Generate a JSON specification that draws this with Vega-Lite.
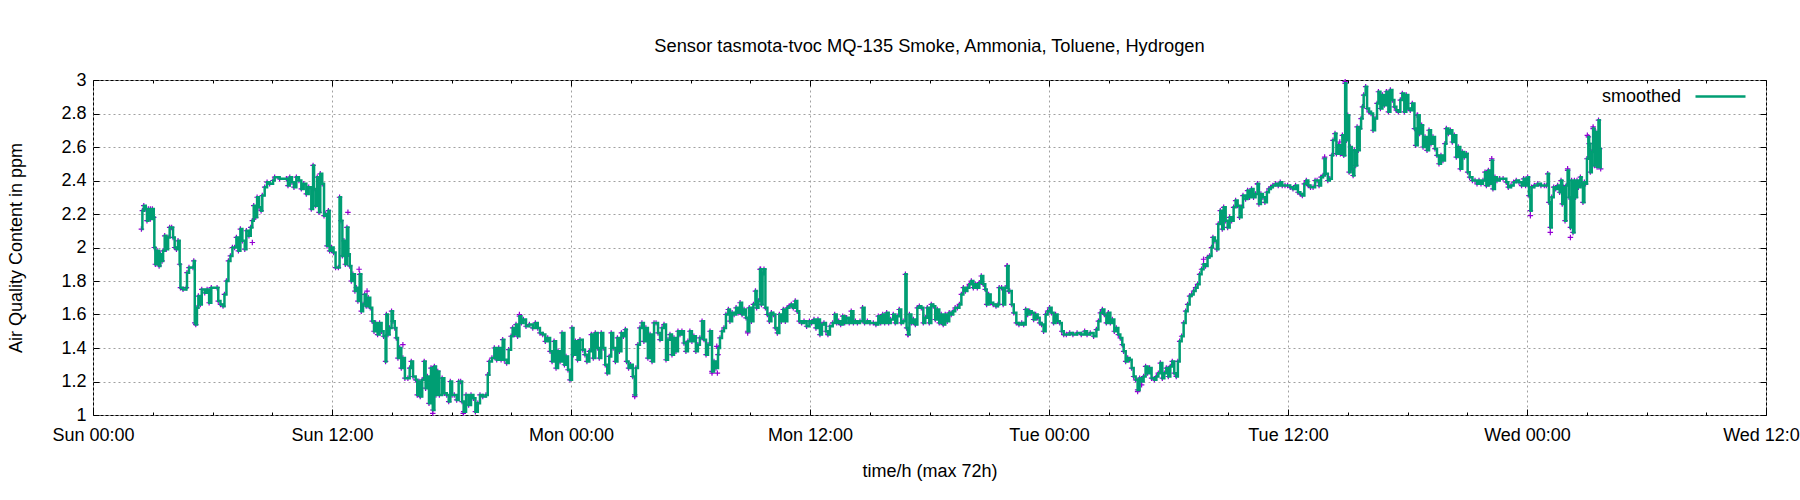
{
  "$schema": "https://vega.github.io/schema/vega-lite/v6.json",
  "autosize": {"type": "none"},
  "width": 1673,
  "height": 335,
  "padding": {"left": 93, "top": 80, "right": 34, "bottom": 85},
  "title": {
    "text": "Sensor tasmota-tvoc MQ-135 Smoke, Ammonia, Toluene, Hydrogen",
    "font": "Liberation Sans",
    "fontSize": 18.3,
    "fontWeight": "normal",
    "color": "black",
    "anchor": "middle",
    "frame": "group",
    "offset": 14
  },
  "config": {
    "view": {"stroke": "black", "strokeWidth": 1},
    "font": "Liberation Sans",
    "axis": {
      "domain": false,
      "labelFont": "Liberation Sans",
      "labelFontSize": 18,
      "labelColor": "black",
      "titleFont": "Liberation Sans",
      "titleFontSize": 18,
      "titleFontWeight": "normal",
      "titleColor": "black",
      "tickColor": "black",
      "tickWidth": 1,
      "gridColor": "#a0a0a0",
      "gridDash": [2, 3],
      "gridWidth": 1
    }
  },
  "datasets": {
    "smooth": [
      {"h": 2.43, "v": 2.11}, {"h": 2.48, "v": 2.22}, {"h": 2.55, "v": 2.25}, {"h": 2.65, "v": 2.23}, {"h": 2.71, "v": 2.16},
      {"h": 2.78, "v": 2.23}, {"h": 2.88, "v": 2.17}, {"h": 2.98, "v": 2.23}, {"h": 3.05, "v": 2.18}, {"h": 3.08, "v": 2.0},
      {"h": 3.13, "v": 1.9}, {"h": 3.22, "v": 1.98}, {"h": 3.32, "v": 1.89}, {"h": 3.38, "v": 1.96}, {"h": 3.47, "v": 1.92},
      {"h": 3.52, "v": 1.98}, {"h": 3.6, "v": 2.07}, {"h": 3.68, "v": 1.99}, {"h": 3.77, "v": 2.06}, {"h": 3.85, "v": 2.12},
      {"h": 3.95, "v": 2.12}, {"h": 4.02, "v": 2.06}, {"h": 4.1, "v": 2.0}, {"h": 4.19, "v": 1.99}, {"h": 4.27, "v": 2.04},
      {"h": 4.35, "v": 1.9}, {"h": 4.39, "v": 1.76}, {"h": 4.52, "v": 1.75}, {"h": 4.69, "v": 1.76}, {"h": 4.72, "v": 1.85},
      {"h": 4.82, "v": 1.88}, {"h": 5.02, "v": 1.88}, {"h": 5.06, "v": 1.92}, {"h": 5.11, "v": 1.55}, {"h": 5.16, "v": 1.54},
      {"h": 5.22, "v": 1.64}, {"h": 5.29, "v": 1.71}, {"h": 5.39, "v": 1.66}, {"h": 5.46, "v": 1.75}, {"h": 5.61, "v": 1.73},
      {"h": 5.73, "v": 1.75}, {"h": 5.83, "v": 1.67}, {"h": 5.94, "v": 1.76}, {"h": 6.23, "v": 1.76}, {"h": 6.29, "v": 1.68},
      {"h": 6.4, "v": 1.66}, {"h": 6.53, "v": 1.65}, {"h": 6.6, "v": 1.72}, {"h": 6.7, "v": 1.8}, {"h": 6.8, "v": 1.92},
      {"h": 6.9, "v": 1.95}, {"h": 7.0, "v": 2.0}, {"h": 7.11, "v": 2.0}, {"h": 7.2, "v": 2.06}, {"h": 7.3, "v": 1.98},
      {"h": 7.4, "v": 2.11}, {"h": 7.5, "v": 2.04}, {"h": 7.62, "v": 1.99}, {"h": 7.7, "v": 2.1}, {"h": 7.83, "v": 2.07},
      {"h": 7.92, "v": 2.12}, {"h": 8.0, "v": 2.16}, {"h": 8.07, "v": 2.25}, {"h": 8.17, "v": 2.18}, {"h": 8.24, "v": 2.3},
      {"h": 8.34, "v": 2.24}, {"h": 8.44, "v": 2.22}, {"h": 8.5, "v": 2.31}, {"h": 8.62, "v": 2.36}, {"h": 8.74, "v": 2.39},
      {"h": 8.87, "v": 2.38}, {"h": 9.04, "v": 2.4}, {"h": 9.12, "v": 2.42}, {"h": 9.37, "v": 2.41}, {"h": 9.71, "v": 2.41},
      {"h": 9.79, "v": 2.37}, {"h": 9.88, "v": 2.42}, {"h": 9.99, "v": 2.39}, {"h": 10.09, "v": 2.36}, {"h": 10.21, "v": 2.42},
      {"h": 10.34, "v": 2.4}, {"h": 10.46, "v": 2.35}, {"h": 10.58, "v": 2.38}, {"h": 10.71, "v": 2.32}, {"h": 10.83, "v": 2.36},
      {"h": 10.96, "v": 2.23}, {"h": 11.05, "v": 2.49}, {"h": 11.1, "v": 2.35}, {"h": 11.18, "v": 2.25}, {"h": 11.26, "v": 2.42},
      {"h": 11.35, "v": 2.21}, {"h": 11.41, "v": 2.44}, {"h": 11.51, "v": 2.38}, {"h": 11.6, "v": 2.19}, {"h": 11.68, "v": 2.2},
      {"h": 11.75, "v": 2.01}, {"h": 11.82, "v": 2.22}, {"h": 11.88, "v": 1.98}, {"h": 11.97, "v": 2.0}, {"h": 12.08, "v": 1.97},
      {"h": 12.18, "v": 1.88}, {"h": 12.32, "v": 1.88}, {"h": 12.38, "v": 2.3}, {"h": 12.45, "v": 2.16}, {"h": 12.52, "v": 1.95},
      {"h": 12.6, "v": 2.04}, {"h": 12.67, "v": 1.9}, {"h": 12.75, "v": 2.12}, {"h": 12.82, "v": 1.96}, {"h": 12.89, "v": 1.89},
      {"h": 12.97, "v": 1.8}, {"h": 13.05, "v": 1.84}, {"h": 13.15, "v": 1.74}, {"h": 13.22, "v": 1.76}, {"h": 13.3, "v": 1.68},
      {"h": 13.39, "v": 1.84}, {"h": 13.47, "v": 1.62}, {"h": 13.56, "v": 1.66}, {"h": 13.64, "v": 1.72}, {"h": 13.72, "v": 1.65},
      {"h": 13.82, "v": 1.7}, {"h": 13.92, "v": 1.64}, {"h": 14.02, "v": 1.56}, {"h": 14.11, "v": 1.5}, {"h": 14.19, "v": 1.55},
      {"h": 14.29, "v": 1.48}, {"h": 14.39, "v": 1.55}, {"h": 14.49, "v": 1.5}, {"h": 14.59, "v": 1.47}, {"h": 14.69, "v": 1.32},
      {"h": 14.73, "v": 1.6}, {"h": 14.81, "v": 1.48}, {"h": 14.89, "v": 1.52}, {"h": 14.99, "v": 1.62}, {"h": 15.06, "v": 1.56},
      {"h": 15.15, "v": 1.52}, {"h": 15.23, "v": 1.46}, {"h": 15.31, "v": 1.34}, {"h": 15.4, "v": 1.4}, {"h": 15.48, "v": 1.28},
      {"h": 15.56, "v": 1.34}, {"h": 15.66, "v": 1.22}, {"h": 15.81, "v": 1.22}, {"h": 15.9, "v": 1.28}, {"h": 15.98, "v": 1.32},
      {"h": 16.07, "v": 1.23}, {"h": 16.2, "v": 1.21}, {"h": 16.28, "v": 1.12}, {"h": 16.37, "v": 1.2}, {"h": 16.43, "v": 1.11},
      {"h": 16.53, "v": 1.21}, {"h": 16.63, "v": 1.32}, {"h": 16.7, "v": 1.16}, {"h": 16.79, "v": 1.23}, {"h": 16.87, "v": 1.07},
      {"h": 16.97, "v": 1.28}, {"h": 17.06, "v": 1.03}, {"h": 17.14, "v": 1.29}, {"h": 17.22, "v": 1.12}, {"h": 17.31, "v": 1.26},
      {"h": 17.39, "v": 1.12}, {"h": 17.53, "v": 1.22}, {"h": 17.64, "v": 1.13}, {"h": 17.76, "v": 1.12}, {"h": 17.86, "v": 1.08},
      {"h": 17.94, "v": 1.2}, {"h": 18.03, "v": 1.12}, {"h": 18.14, "v": 1.12}, {"h": 18.26, "v": 1.09}, {"h": 18.36, "v": 1.2},
      {"h": 18.46, "v": 1.2}, {"h": 18.53, "v": 1.08}, {"h": 18.61, "v": 1.02}, {"h": 18.73, "v": 1.12}, {"h": 18.86, "v": 1.06},
      {"h": 18.98, "v": 1.12}, {"h": 19.1, "v": 1.1}, {"h": 19.2, "v": 1.02}, {"h": 19.32, "v": 1.07}, {"h": 19.43, "v": 1.12},
      {"h": 19.57, "v": 1.11}, {"h": 19.73, "v": 1.12}, {"h": 19.82, "v": 1.24}, {"h": 19.9, "v": 1.32}, {"h": 20.03, "v": 1.34},
      {"h": 20.15, "v": 1.4}, {"h": 20.27, "v": 1.33}, {"h": 20.37, "v": 1.4}, {"h": 20.49, "v": 1.33}, {"h": 20.57, "v": 1.45},
      {"h": 20.65, "v": 1.33}, {"h": 20.77, "v": 1.31}, {"h": 20.87, "v": 1.39}, {"h": 20.99, "v": 1.47}, {"h": 21.07, "v": 1.52},
      {"h": 21.16, "v": 1.48}, {"h": 21.24, "v": 1.54}, {"h": 21.32, "v": 1.47}, {"h": 21.41, "v": 1.59}, {"h": 21.51, "v": 1.55},
      {"h": 21.61, "v": 1.57}, {"h": 21.74, "v": 1.53}, {"h": 21.91, "v": 1.54}, {"h": 22.08, "v": 1.52}, {"h": 22.21, "v": 1.55},
      {"h": 22.33, "v": 1.52}, {"h": 22.44, "v": 1.49}, {"h": 22.58, "v": 1.48}, {"h": 22.71, "v": 1.44}, {"h": 22.83, "v": 1.46},
      {"h": 22.95, "v": 1.38}, {"h": 23.05, "v": 1.32}, {"h": 23.15, "v": 1.44}, {"h": 23.25, "v": 1.28}, {"h": 23.35, "v": 1.38},
      {"h": 23.45, "v": 1.32}, {"h": 23.55, "v": 1.49}, {"h": 23.67, "v": 1.3}, {"h": 23.75, "v": 1.35}, {"h": 23.85, "v": 1.27},
      {"h": 23.95, "v": 1.21}, {"h": 24.05, "v": 1.52}, {"h": 24.12, "v": 1.36}, {"h": 24.22, "v": 1.44}, {"h": 24.33, "v": 1.33},
      {"h": 24.45, "v": 1.45}, {"h": 24.59, "v": 1.39}, {"h": 24.7, "v": 1.36}, {"h": 24.8, "v": 1.32}, {"h": 24.92, "v": 1.38},
      {"h": 25.02, "v": 1.48}, {"h": 25.12, "v": 1.34}, {"h": 25.22, "v": 1.49}, {"h": 25.34, "v": 1.4}, {"h": 25.42, "v": 1.34},
      {"h": 25.52, "v": 1.49}, {"h": 25.62, "v": 1.4}, {"h": 25.72, "v": 1.3}, {"h": 25.82, "v": 1.25}, {"h": 25.92, "v": 1.35},
      {"h": 26.02, "v": 1.49}, {"h": 26.12, "v": 1.4}, {"h": 26.23, "v": 1.32}, {"h": 26.33, "v": 1.46}, {"h": 26.43, "v": 1.38},
      {"h": 26.53, "v": 1.49}, {"h": 26.63, "v": 1.47}, {"h": 26.73, "v": 1.51}, {"h": 26.79, "v": 1.32}, {"h": 26.89, "v": 1.28},
      {"h": 26.99, "v": 1.3}, {"h": 27.1, "v": 1.23}, {"h": 27.2, "v": 1.12}, {"h": 27.26, "v": 1.28}, {"h": 27.36, "v": 1.42},
      {"h": 27.46, "v": 1.52}, {"h": 27.56, "v": 1.55}, {"h": 27.66, "v": 1.44}, {"h": 27.76, "v": 1.52}, {"h": 27.86, "v": 1.34},
      {"h": 27.97, "v": 1.48}, {"h": 28.07, "v": 1.32}, {"h": 28.17, "v": 1.55}, {"h": 28.27, "v": 1.55}, {"h": 28.37, "v": 1.49},
      {"h": 28.47, "v": 1.45}, {"h": 28.57, "v": 1.52}, {"h": 28.67, "v": 1.54}, {"h": 28.77, "v": 1.33}, {"h": 28.87, "v": 1.45},
      {"h": 28.97, "v": 1.48}, {"h": 29.07, "v": 1.36}, {"h": 29.17, "v": 1.46}, {"h": 29.27, "v": 1.38}, {"h": 29.37, "v": 1.5},
      {"h": 29.47, "v": 1.48}, {"h": 29.57, "v": 1.5}, {"h": 29.67, "v": 1.43}, {"h": 29.77, "v": 1.38}, {"h": 29.87, "v": 1.44},
      {"h": 29.97, "v": 1.5}, {"h": 30.07, "v": 1.44}, {"h": 30.17, "v": 1.47}, {"h": 30.27, "v": 1.38}, {"h": 30.37, "v": 1.42},
      {"h": 30.47, "v": 1.46}, {"h": 30.58, "v": 1.56}, {"h": 30.68, "v": 1.45}, {"h": 30.78, "v": 1.36}, {"h": 30.88, "v": 1.42},
      {"h": 30.98, "v": 1.5}, {"h": 31.08, "v": 1.26}, {"h": 31.18, "v": 1.32}, {"h": 31.28, "v": 1.28}, {"h": 31.38, "v": 1.36},
      {"h": 31.4, "v": 1.4}, {"h": 31.48, "v": 1.46}, {"h": 31.58, "v": 1.5}, {"h": 31.68, "v": 1.52}, {"h": 31.78, "v": 1.6},
      {"h": 31.9, "v": 1.63}, {"h": 31.98, "v": 1.56}, {"h": 32.09, "v": 1.61}, {"h": 32.19, "v": 1.6}, {"h": 32.29, "v": 1.64},
      {"h": 32.39, "v": 1.61}, {"h": 32.49, "v": 1.67}, {"h": 32.59, "v": 1.6}, {"h": 32.69, "v": 1.63}, {"h": 32.79, "v": 1.58},
      {"h": 32.87, "v": 1.5}, {"h": 32.95, "v": 1.64}, {"h": 33.06, "v": 1.56}, {"h": 33.16, "v": 1.66}, {"h": 33.26, "v": 1.74},
      {"h": 33.32, "v": 1.64}, {"h": 33.41, "v": 1.68}, {"h": 33.49, "v": 1.87}, {"h": 33.56, "v": 1.66}, {"h": 33.62, "v": 1.84},
      {"h": 33.69, "v": 1.87}, {"h": 33.76, "v": 1.64}, {"h": 33.86, "v": 1.6}, {"h": 33.96, "v": 1.56}, {"h": 34.06, "v": 1.61},
      {"h": 34.16, "v": 1.6}, {"h": 34.26, "v": 1.52}, {"h": 34.36, "v": 1.49}, {"h": 34.46, "v": 1.6}, {"h": 34.56, "v": 1.56},
      {"h": 34.66, "v": 1.63}, {"h": 34.76, "v": 1.56}, {"h": 34.86, "v": 1.64}, {"h": 34.96, "v": 1.65}, {"h": 35.06, "v": 1.66},
      {"h": 35.16, "v": 1.64}, {"h": 35.26, "v": 1.68}, {"h": 35.36, "v": 1.62}, {"h": 35.46, "v": 1.56}, {"h": 35.58, "v": 1.55},
      {"h": 35.7, "v": 1.56}, {"h": 35.83, "v": 1.53}, {"h": 35.97, "v": 1.56}, {"h": 36.08, "v": 1.55}, {"h": 36.2, "v": 1.57},
      {"h": 36.3, "v": 1.52}, {"h": 36.4, "v": 1.57}, {"h": 36.5, "v": 1.48}, {"h": 36.6, "v": 1.54}, {"h": 36.7, "v": 1.55},
      {"h": 36.8, "v": 1.5}, {"h": 36.9, "v": 1.48}, {"h": 37.0, "v": 1.53}, {"h": 37.14, "v": 1.55}, {"h": 37.24, "v": 1.6},
      {"h": 37.34, "v": 1.55}, {"h": 37.44, "v": 1.56}, {"h": 37.54, "v": 1.54}, {"h": 37.64, "v": 1.59}, {"h": 37.74, "v": 1.55},
      {"h": 37.84, "v": 1.58}, {"h": 37.97, "v": 1.55}, {"h": 38.07, "v": 1.62}, {"h": 38.18, "v": 1.55}, {"h": 38.28, "v": 1.56},
      {"h": 38.38, "v": 1.55}, {"h": 38.51, "v": 1.56}, {"h": 38.64, "v": 1.64}, {"h": 38.74, "v": 1.55}, {"h": 38.88, "v": 1.56},
      {"h": 39.01, "v": 1.55}, {"h": 39.18, "v": 1.55}, {"h": 39.31, "v": 1.54}, {"h": 39.43, "v": 1.59}, {"h": 39.55, "v": 1.55},
      {"h": 39.65, "v": 1.6}, {"h": 39.75, "v": 1.55}, {"h": 39.85, "v": 1.61}, {"h": 39.95, "v": 1.55}, {"h": 40.05, "v": 1.57},
      {"h": 40.18, "v": 1.6}, {"h": 40.28, "v": 1.55}, {"h": 40.38, "v": 1.59}, {"h": 40.48, "v": 1.63}, {"h": 40.58, "v": 1.55},
      {"h": 40.68, "v": 1.56}, {"h": 40.79, "v": 1.84}, {"h": 40.85, "v": 1.52}, {"h": 40.92, "v": 1.48}, {"h": 40.99, "v": 1.6},
      {"h": 41.09, "v": 1.55}, {"h": 41.19, "v": 1.57}, {"h": 41.29, "v": 1.54}, {"h": 41.39, "v": 1.64}, {"h": 41.49, "v": 1.65},
      {"h": 41.59, "v": 1.64}, {"h": 41.69, "v": 1.55}, {"h": 41.79, "v": 1.58}, {"h": 41.89, "v": 1.64}, {"h": 41.99, "v": 1.55},
      {"h": 42.09, "v": 1.66}, {"h": 42.19, "v": 1.65}, {"h": 42.29, "v": 1.57}, {"h": 42.39, "v": 1.63}, {"h": 42.49, "v": 1.55},
      {"h": 42.59, "v": 1.6}, {"h": 42.69, "v": 1.54}, {"h": 42.79, "v": 1.6}, {"h": 42.89, "v": 1.56}, {"h": 42.99, "v": 1.61},
      {"h": 43.09, "v": 1.6}, {"h": 43.19, "v": 1.62}, {"h": 43.29, "v": 1.64}, {"h": 43.4, "v": 1.64}, {"h": 43.5, "v": 1.66},
      {"h": 43.6, "v": 1.72}, {"h": 43.7, "v": 1.76}, {"h": 43.8, "v": 1.74}, {"h": 43.9, "v": 1.76}, {"h": 44.0, "v": 1.78},
      {"h": 44.1, "v": 1.8}, {"h": 44.2, "v": 1.76}, {"h": 44.3, "v": 1.78}, {"h": 44.4, "v": 1.76}, {"h": 44.5, "v": 1.79},
      {"h": 44.6, "v": 1.83}, {"h": 44.7, "v": 1.78}, {"h": 44.8, "v": 1.75}, {"h": 44.87, "v": 1.66}, {"h": 44.97, "v": 1.72},
      {"h": 45.07, "v": 1.67}, {"h": 45.2, "v": 1.66}, {"h": 45.34, "v": 1.65}, {"h": 45.44, "v": 1.66}, {"h": 45.5, "v": 1.76},
      {"h": 45.62, "v": 1.76}, {"h": 45.7, "v": 1.66}, {"h": 45.8, "v": 1.76}, {"h": 45.9, "v": 1.89}, {"h": 45.97, "v": 1.74},
      {"h": 46.03, "v": 1.74}, {"h": 46.13, "v": 1.66}, {"h": 46.23, "v": 1.61}, {"h": 46.36, "v": 1.55}, {"h": 46.49, "v": 1.54},
      {"h": 46.63, "v": 1.55}, {"h": 46.73, "v": 1.54}, {"h": 46.83, "v": 1.63}, {"h": 46.93, "v": 1.6}, {"h": 47.03, "v": 1.62},
      {"h": 47.13, "v": 1.61}, {"h": 47.23, "v": 1.57}, {"h": 47.33, "v": 1.6}, {"h": 47.43, "v": 1.58}, {"h": 47.53, "v": 1.55},
      {"h": 47.63, "v": 1.54}, {"h": 47.73, "v": 1.5}, {"h": 47.83, "v": 1.6}, {"h": 47.93, "v": 1.62}, {"h": 48.03, "v": 1.64},
      {"h": 48.13, "v": 1.61}, {"h": 48.23, "v": 1.55}, {"h": 48.33, "v": 1.6}, {"h": 48.43, "v": 1.56}, {"h": 48.54, "v": 1.55},
      {"h": 48.64, "v": 1.5}, {"h": 48.74, "v": 1.48}, {"h": 48.87, "v": 1.48}, {"h": 49.04, "v": 1.49}, {"h": 49.2, "v": 1.48},
      {"h": 49.41, "v": 1.49}, {"h": 49.62, "v": 1.48}, {"h": 49.79, "v": 1.5}, {"h": 49.91, "v": 1.48}, {"h": 50.07, "v": 1.49},
      {"h": 50.24, "v": 1.47}, {"h": 50.38, "v": 1.51}, {"h": 50.48, "v": 1.56}, {"h": 50.58, "v": 1.61}, {"h": 50.68, "v": 1.63},
      {"h": 50.78, "v": 1.6}, {"h": 50.88, "v": 1.55}, {"h": 50.98, "v": 1.61}, {"h": 51.08, "v": 1.55}, {"h": 51.18, "v": 1.57},
      {"h": 51.28, "v": 1.5}, {"h": 51.38, "v": 1.52}, {"h": 51.48, "v": 1.48}, {"h": 51.58, "v": 1.46}, {"h": 51.68, "v": 1.42},
      {"h": 51.75, "v": 1.38}, {"h": 51.85, "v": 1.32}, {"h": 51.95, "v": 1.34}, {"h": 52.05, "v": 1.33}, {"h": 52.15, "v": 1.28},
      {"h": 52.25, "v": 1.23}, {"h": 52.35, "v": 1.21}, {"h": 52.45, "v": 1.15}, {"h": 52.55, "v": 1.22}, {"h": 52.65, "v": 1.2},
      {"h": 52.75, "v": 1.23}, {"h": 52.85, "v": 1.29}, {"h": 52.95, "v": 1.25}, {"h": 53.05, "v": 1.28}, {"h": 53.15, "v": 1.22},
      {"h": 53.29, "v": 1.21}, {"h": 53.39, "v": 1.23}, {"h": 53.49, "v": 1.25}, {"h": 53.59, "v": 1.31}, {"h": 53.69, "v": 1.22},
      {"h": 53.79, "v": 1.25}, {"h": 53.89, "v": 1.28}, {"h": 53.99, "v": 1.23}, {"h": 54.09, "v": 1.29}, {"h": 54.19, "v": 1.32},
      {"h": 54.29, "v": 1.25}, {"h": 54.39, "v": 1.23}, {"h": 54.47, "v": 1.32}, {"h": 54.56, "v": 1.44}, {"h": 54.66, "v": 1.47},
      {"h": 54.76, "v": 1.55}, {"h": 54.86, "v": 1.62}, {"h": 54.96, "v": 1.66}, {"h": 55.06, "v": 1.71}, {"h": 55.16, "v": 1.72},
      {"h": 55.26, "v": 1.74}, {"h": 55.36, "v": 1.76}, {"h": 55.46, "v": 1.78}, {"h": 55.56, "v": 1.84}, {"h": 55.66, "v": 1.87},
      {"h": 55.76, "v": 1.9}, {"h": 55.86, "v": 1.89}, {"h": 55.96, "v": 1.94}, {"h": 56.06, "v": 1.95}, {"h": 56.16, "v": 2.0},
      {"h": 56.23, "v": 2.06}, {"h": 56.33, "v": 2.04}, {"h": 56.43, "v": 1.99}, {"h": 56.5, "v": 2.14}, {"h": 56.6, "v": 2.22},
      {"h": 56.7, "v": 2.11}, {"h": 56.77, "v": 2.24}, {"h": 56.87, "v": 2.16}, {"h": 56.97, "v": 2.12}, {"h": 57.07, "v": 2.18},
      {"h": 57.17, "v": 2.16}, {"h": 57.27, "v": 2.24}, {"h": 57.37, "v": 2.28}, {"h": 57.47, "v": 2.25}, {"h": 57.57, "v": 2.18},
      {"h": 57.67, "v": 2.24}, {"h": 57.74, "v": 2.31}, {"h": 57.87, "v": 2.29}, {"h": 57.97, "v": 2.34}, {"h": 58.07, "v": 2.3},
      {"h": 58.17, "v": 2.35}, {"h": 58.27, "v": 2.3}, {"h": 58.37, "v": 2.32}, {"h": 58.47, "v": 2.38}, {"h": 58.54, "v": 2.26},
      {"h": 58.64, "v": 2.32}, {"h": 58.74, "v": 2.3}, {"h": 58.84, "v": 2.27}, {"h": 58.94, "v": 2.33}, {"h": 59.04, "v": 2.35},
      {"h": 59.14, "v": 2.36}, {"h": 59.24, "v": 2.37}, {"h": 59.38, "v": 2.38}, {"h": 59.51, "v": 2.37}, {"h": 59.61, "v": 2.39},
      {"h": 59.71, "v": 2.37}, {"h": 59.85, "v": 2.37}, {"h": 59.98, "v": 2.37}, {"h": 60.11, "v": 2.36}, {"h": 60.25, "v": 2.35},
      {"h": 60.38, "v": 2.37}, {"h": 60.5, "v": 2.33}, {"h": 60.62, "v": 2.32}, {"h": 60.72, "v": 2.31}, {"h": 60.82, "v": 2.38},
      {"h": 60.92, "v": 2.4}, {"h": 61.02, "v": 2.37}, {"h": 61.13, "v": 2.36}, {"h": 61.26, "v": 2.36}, {"h": 61.36, "v": 2.4},
      {"h": 61.46, "v": 2.4}, {"h": 61.56, "v": 2.37}, {"h": 61.66, "v": 2.42}, {"h": 61.76, "v": 2.43}, {"h": 61.83, "v": 2.53},
      {"h": 61.89, "v": 2.44}, {"h": 62.0, "v": 2.4}, {"h": 62.1, "v": 2.41}, {"h": 62.2, "v": 2.55}, {"h": 62.26, "v": 2.64},
      {"h": 62.36, "v": 2.68}, {"h": 62.43, "v": 2.56}, {"h": 62.53, "v": 2.61}, {"h": 62.63, "v": 2.56}, {"h": 62.73, "v": 2.67},
      {"h": 62.8, "v": 2.55}, {"h": 62.87, "v": 2.98}, {"h": 62.93, "v": 2.64}, {"h": 63.0, "v": 2.79}, {"h": 63.07, "v": 2.45},
      {"h": 63.13, "v": 2.6}, {"h": 63.2, "v": 2.47}, {"h": 63.27, "v": 2.43}, {"h": 63.33, "v": 2.58}, {"h": 63.4, "v": 2.49},
      {"h": 63.47, "v": 2.72}, {"h": 63.53, "v": 2.58}, {"h": 63.6, "v": 2.71}, {"h": 63.67, "v": 2.77}, {"h": 63.74, "v": 2.84},
      {"h": 63.8, "v": 2.91}, {"h": 63.9, "v": 2.96}, {"h": 63.97, "v": 2.83}, {"h": 64.07, "v": 2.81}, {"h": 64.17, "v": 2.8},
      {"h": 64.27, "v": 2.7}, {"h": 64.37, "v": 2.77}, {"h": 64.47, "v": 2.86}, {"h": 64.54, "v": 2.93}, {"h": 64.64, "v": 2.83},
      {"h": 64.74, "v": 2.91}, {"h": 64.84, "v": 2.85}, {"h": 64.94, "v": 2.93}, {"h": 65.04, "v": 2.81}, {"h": 65.14, "v": 2.94},
      {"h": 65.24, "v": 2.88}, {"h": 65.34, "v": 2.84}, {"h": 65.44, "v": 2.82}, {"h": 65.54, "v": 2.81}, {"h": 65.64, "v": 2.88},
      {"h": 65.74, "v": 2.92}, {"h": 65.84, "v": 2.81}, {"h": 65.94, "v": 2.91}, {"h": 66.04, "v": 2.83}, {"h": 66.14, "v": 2.82},
      {"h": 66.24, "v": 2.86}, {"h": 66.35, "v": 2.71}, {"h": 66.41, "v": 2.61}, {"h": 66.51, "v": 2.79}, {"h": 66.61, "v": 2.68},
      {"h": 66.71, "v": 2.73}, {"h": 66.78, "v": 2.6}, {"h": 66.88, "v": 2.66}, {"h": 66.98, "v": 2.58}, {"h": 67.08, "v": 2.7},
      {"h": 67.18, "v": 2.62}, {"h": 67.28, "v": 2.66}, {"h": 67.38, "v": 2.59}, {"h": 67.48, "v": 2.55}, {"h": 67.58, "v": 2.5},
      {"h": 67.68, "v": 2.55}, {"h": 67.78, "v": 2.52}, {"h": 67.88, "v": 2.62}, {"h": 67.95, "v": 2.71}, {"h": 68.05, "v": 2.68},
      {"h": 68.15, "v": 2.7}, {"h": 68.25, "v": 2.63}, {"h": 68.35, "v": 2.67}, {"h": 68.45, "v": 2.54}, {"h": 68.55, "v": 2.6},
      {"h": 68.65, "v": 2.47}, {"h": 68.75, "v": 2.57}, {"h": 68.85, "v": 2.54}, {"h": 68.95, "v": 2.56}, {"h": 69.02, "v": 2.45},
      {"h": 69.12, "v": 2.42}, {"h": 69.26, "v": 2.4}, {"h": 69.39, "v": 2.4}, {"h": 69.49, "v": 2.38}, {"h": 69.59, "v": 2.4},
      {"h": 69.69, "v": 2.38}, {"h": 69.79, "v": 2.4}, {"h": 69.89, "v": 2.45}, {"h": 69.96, "v": 2.37}, {"h": 70.06, "v": 2.46},
      {"h": 70.13, "v": 2.38}, {"h": 70.23, "v": 2.52}, {"h": 70.29, "v": 2.35}, {"h": 70.39, "v": 2.42}, {"h": 70.49, "v": 2.4},
      {"h": 70.63, "v": 2.41}, {"h": 70.8, "v": 2.41}, {"h": 70.96, "v": 2.39}, {"h": 71.06, "v": 2.36}, {"h": 71.2, "v": 2.37},
      {"h": 71.33, "v": 2.39}, {"h": 71.46, "v": 2.4}, {"h": 71.6, "v": 2.39}, {"h": 71.73, "v": 2.37}, {"h": 71.83, "v": 2.41},
      {"h": 71.93, "v": 2.37}, {"h": 72.03, "v": 2.42}, {"h": 72.1, "v": 2.31}, {"h": 72.17, "v": 2.22}, {"h": 72.23, "v": 2.36},
      {"h": 72.37, "v": 2.37}, {"h": 72.54, "v": 2.38}, {"h": 72.7, "v": 2.37}, {"h": 72.87, "v": 2.37}, {"h": 72.97, "v": 2.37},
      {"h": 73.04, "v": 2.44}, {"h": 73.1, "v": 2.27}, {"h": 73.17, "v": 2.12}, {"h": 73.24, "v": 2.3}, {"h": 73.34, "v": 2.36},
      {"h": 73.44, "v": 2.35}, {"h": 73.54, "v": 2.37}, {"h": 73.64, "v": 2.33}, {"h": 73.71, "v": 2.4}, {"h": 73.77, "v": 2.26},
      {"h": 73.84, "v": 2.36}, {"h": 73.91, "v": 2.16}, {"h": 73.97, "v": 2.37}, {"h": 74.04, "v": 2.46}, {"h": 74.11, "v": 2.3},
      {"h": 74.18, "v": 2.12}, {"h": 74.24, "v": 2.4}, {"h": 74.31, "v": 2.09}, {"h": 74.38, "v": 2.4}, {"h": 74.44, "v": 2.3},
      {"h": 74.51, "v": 2.4}, {"h": 74.58, "v": 2.36}, {"h": 74.68, "v": 2.42}, {"h": 74.74, "v": 2.38}, {"h": 74.81, "v": 2.27},
      {"h": 74.88, "v": 2.39}, {"h": 74.94, "v": 2.38}, {"h": 75.01, "v": 2.53}, {"h": 75.08, "v": 2.66}, {"h": 75.12, "v": 2.62},
      {"h": 75.18, "v": 2.45}, {"h": 75.25, "v": 2.57}, {"h": 75.32, "v": 2.71}, {"h": 75.38, "v": 2.49}, {"h": 75.45, "v": 2.69},
      {"h": 75.52, "v": 2.48}, {"h": 75.59, "v": 2.76}, {"h": 75.65, "v": 2.59}, {"h": 75.7, "v": 2.47}
    ],
    "raw": [
      {"h": 2.88, "v": 2.23}, {"h": 8.0, "v": 2.03}, {"h": 12.8, "v": 2.21}, {"h": 13.36, "v": 1.87}, {"h": 13.76, "v": 1.74},
      {"h": 15.56, "v": 1.42}, {"h": 17.06, "v": 1.01}, {"h": 18.59, "v": 1.01}, {"h": 21.41, "v": 1.6}, {"h": 27.2, "v": 1.11},
      {"h": 31.08, "v": 1.25}, {"h": 31.32, "v": 1.41}, {"h": 31.35, "v": 1.25}, {"h": 32.87, "v": 1.49}, {"h": 33.52, "v": 1.87},
      {"h": 40.92, "v": 1.48}, {"h": 45.9, "v": 1.89}, {"h": 52.45, "v": 1.14}, {"h": 52.65, "v": 1.18}, {"h": 55.76, "v": 1.93},
      {"h": 58.47, "v": 2.38}, {"h": 61.84, "v": 2.54}, {"h": 62.6, "v": 2.63}, {"h": 62.87, "v": 2.99}, {"h": 66.48, "v": 2.79},
      {"h": 70.23, "v": 2.53}, {"h": 72.17, "v": 2.19}, {"h": 73.17, "v": 2.09}, {"h": 74.04, "v": 2.47}, {"h": 74.18, "v": 2.06},
      {"h": 75.03, "v": 2.67}, {"h": 75.32, "v": 2.72}
    ]
  },
  "layer": [
    {
      "data": {"name": "smooth"},
      "mark": {"type": "point", "shape": "M-1,0H1M0,-1V1", "size": 30, "filled": false, "color": "#9400d3", "strokeWidth": 1.2, "opacity": 1},
      "encoding": {
        "x": {
          "field": "h",
          "type": "quantitative",
          "scale": {"domain": [0, 84], "nice": false, "zero": false},
          "axis": {
            "orient": "bottom",
            "values": [0, 3, 6, 9, 12, 15, 18, 21, 24, 27, 30, 33, 36, 39, 42, 45, 48, 51, 54, 57, 60, 63, 66, 69, 72, 75, 78, 81, 84],
            "labelExpr": "datum.value % 12 === 0 ? ['Sun', 'Mon', 'Tue', 'Wed'][floor(datum.value / 24)] + (datum.value % 24 === 0 ? ' 00:00' : ' 12:00') : ''",
            "labelOverlap": false,
            "labelFlush": false,
            "labelPadding": 17,
            "tickSize": {"condition": {"test": "datum.value % 12 === 0", "value": -6}, "value": -3},
            "grid": true,
            "gridOpacity": {"condition": {"test": "datum.value % 12 === 0", "value": 1}, "value": 0},
            "title": "time/h (max 72h)",
            "titlePadding": 15
          }
        },
        "y": {
          "field": "v",
          "type": "quantitative",
          "scale": {"domain": [1, 3], "nice": false, "zero": false},
          "axis": {
            "orient": "left",
            "values": [1, 1.2, 1.4, 1.6, 1.8, 2, 2.2, 2.4, 2.6, 2.8, 3],
            "format": "~g",
            "labelPadding": 13,
            "tickSize": -6,
            "grid": true,
            "title": "Air Quality Content in ppm",
            "titlePadding": 35
          }
        }
      }
    },
    {
      "data": {"name": "raw"},
      "mark": {"type": "point", "shape": "M-1,0H1M0,-1V1", "size": 30, "filled": false, "color": "#9400d3", "strokeWidth": 1.2, "opacity": 1},
      "encoding": {
        "x": {
          "field": "h",
          "type": "quantitative",
          "axis": {
            "orient": "top",
            "values": [0, 3, 6, 9, 12, 15, 18, 21, 24, 27, 30, 33, 36, 39, 42, 45, 48, 51, 54, 57, 60, 63, 66, 69, 72, 75, 78, 81, 84],
            "labels": false,
            "tickSize": {"condition": {"test": "datum.value % 12 === 0", "value": -6}, "value": -3},
            "grid": false,
            "title": null
          }
        },
        "y": {
          "field": "v",
          "type": "quantitative",
          "axis": {
            "orient": "right",
            "values": [1, 1.2, 1.4, 1.6, 1.8, 2, 2.2, 2.4, 2.6, 2.8, 3],
            "labels": false,
            "tickSize": -6,
            "grid": false,
            "title": null
          }
        }
      }
    },
    {
      "data": {"name": "smooth"},
      "mark": {"type": "line", "interpolate": "step-after", "strokeWidth": 2.5},
      "encoding": {
        "x": {"field": "h", "type": "quantitative", "axis": null},
        "y": {"field": "v", "type": "quantitative", "axis": null},
        "color": {
          "datum": "smoothed",
          "type": "nominal",
          "scale": {"domain": ["smoothed"], "range": ["#009e73"]},
          "legend": {
            "orient": "none",
            "legendX": 1601,
            "legendY": -10,
            "title": null,
            "padding": 0,
            "symbolType": "stroke",
            "symbolSize": 2500,
            "symbolStrokeWidth": 2.5,
            "labelFont": "Liberation Sans",
            "labelFontSize": 18,
            "labelColor": "black",
            "labelAlign": "right",
            "labelOffset": -66
          }
        }
      }
    }
  ],
  "resolve": {"axis": {"x": "independent", "y": "independent"}}
}
